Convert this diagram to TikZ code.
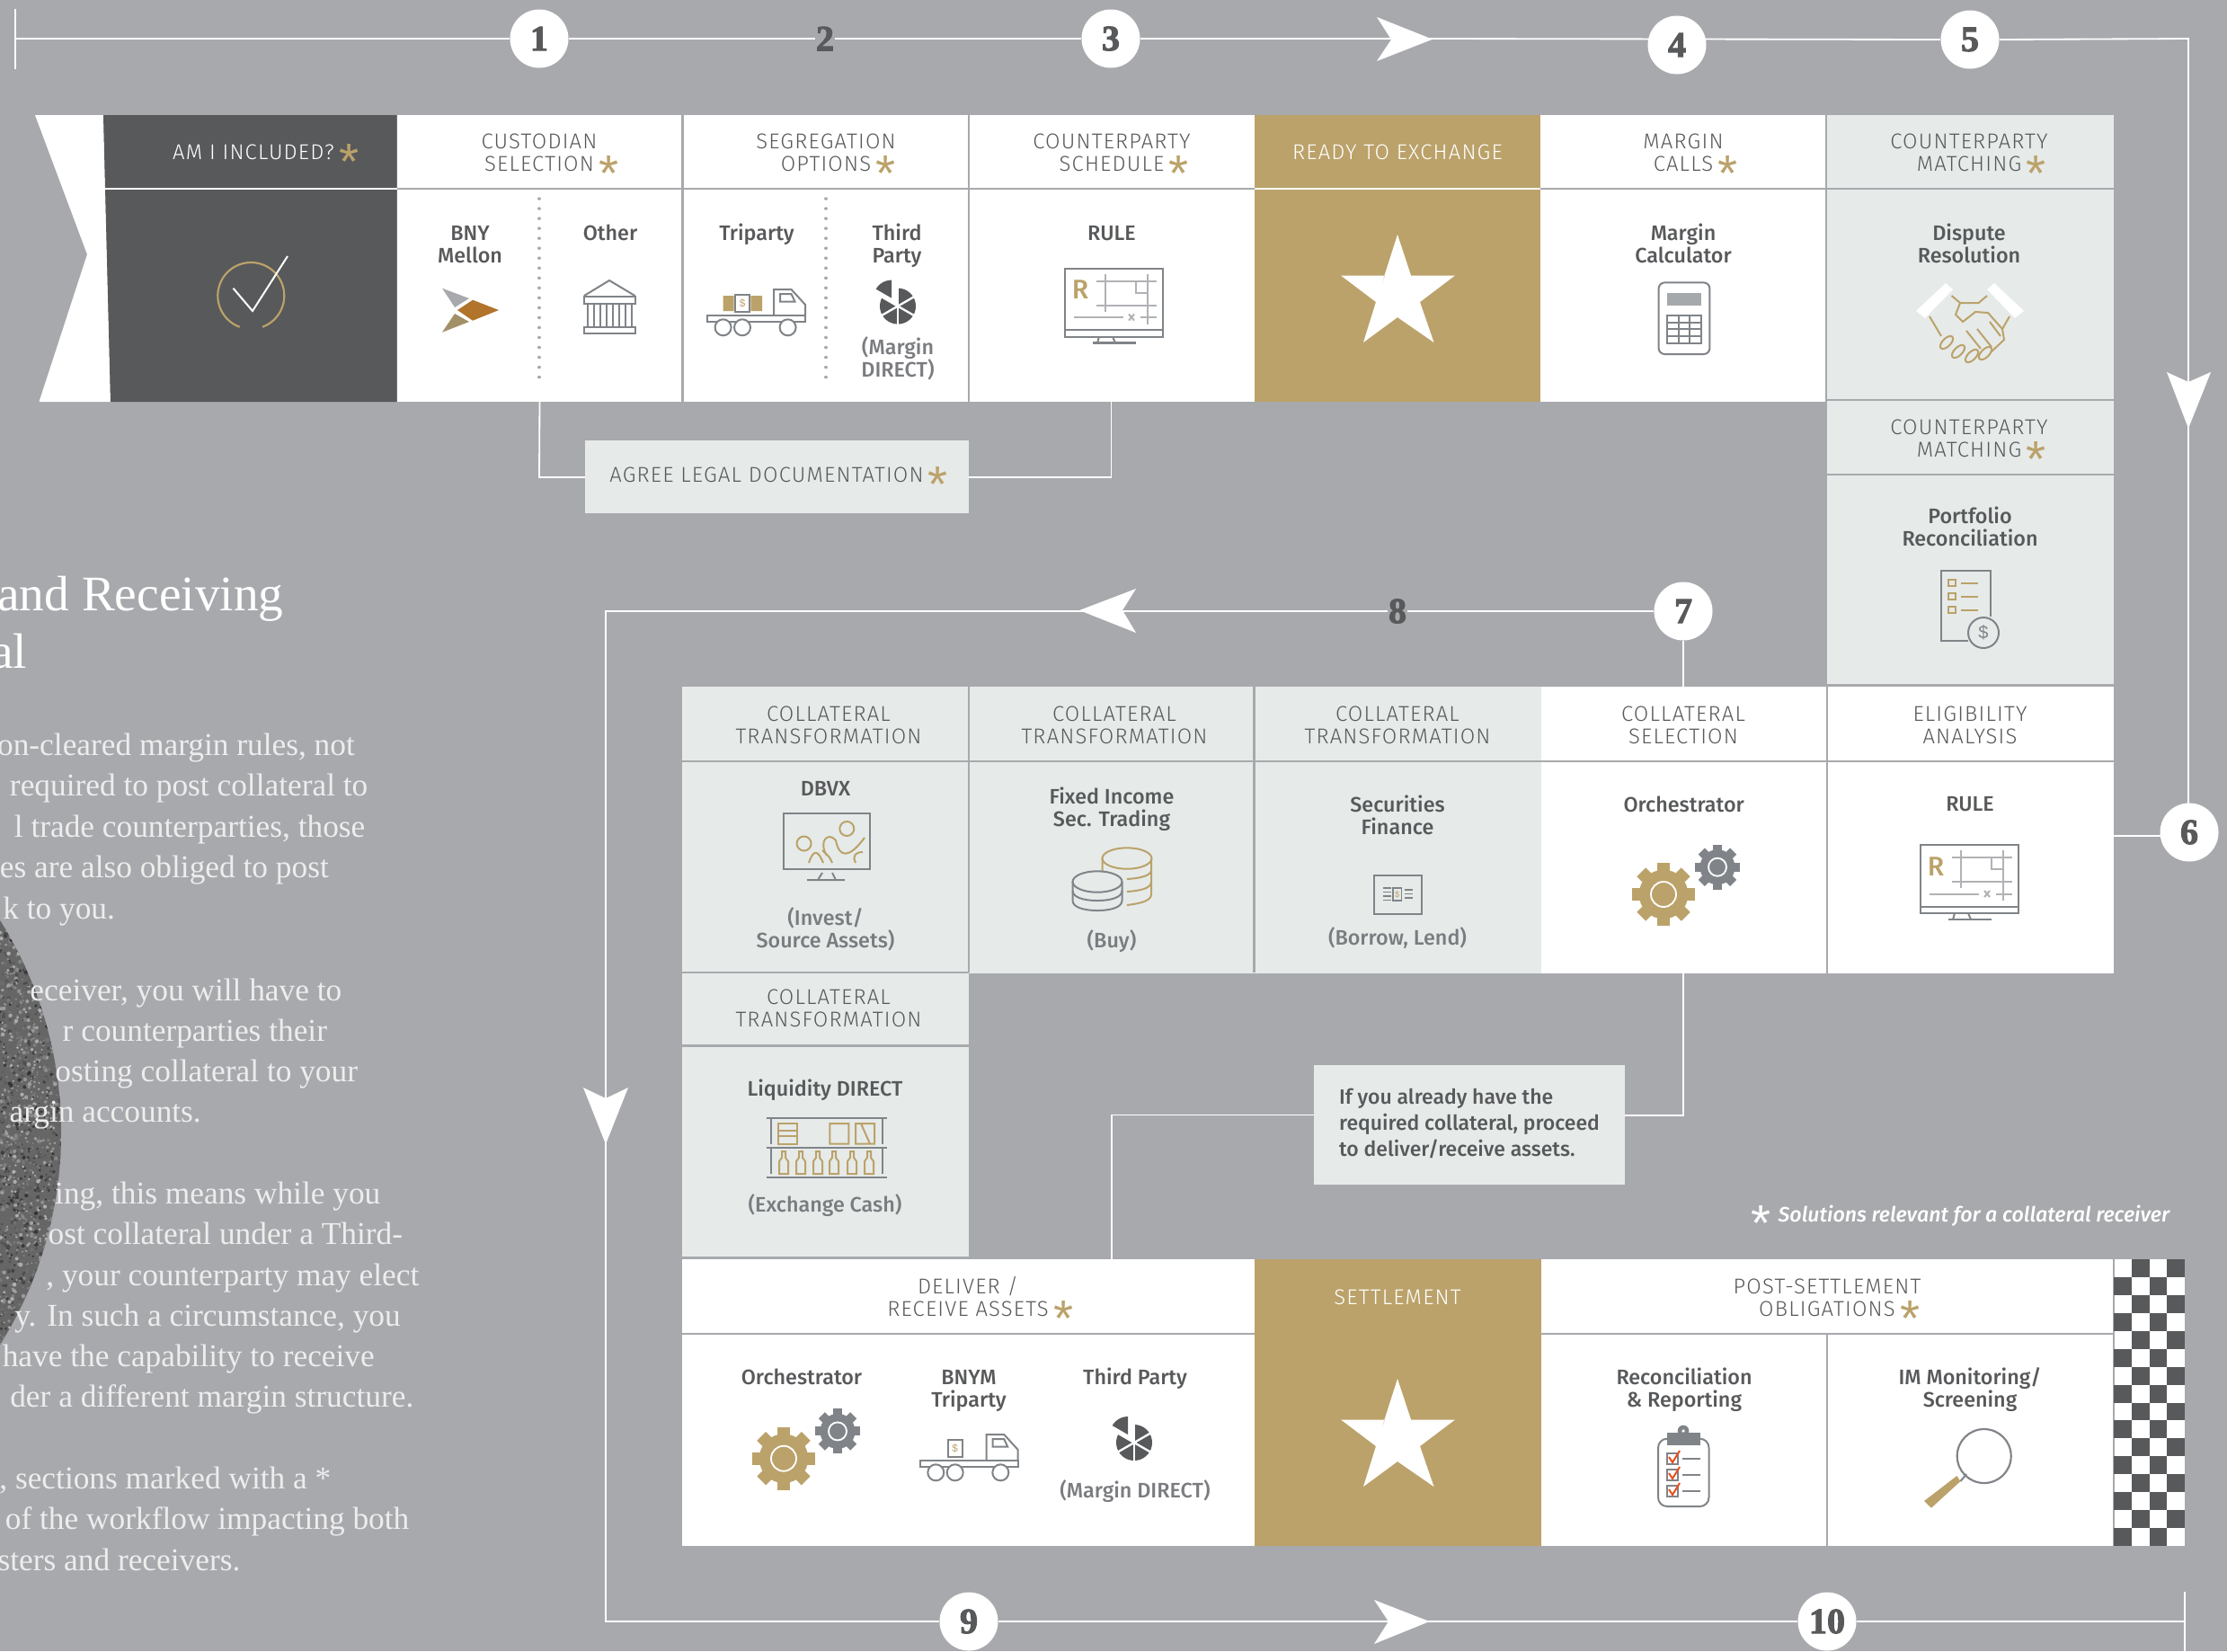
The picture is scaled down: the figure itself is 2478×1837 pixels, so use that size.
\documentclass[tikz,border=0pt]{standalone}
\usepackage{fontspec}
\setmainfont{Liberation Sans}
\newfontfamily\hdrf[LetterSpace=5]{Fira Sans Light}
\newfontfamily\labf{Fira Sans Medium}
\newfontfamily\fnf{Fira Sans Medium Italic}
\newfontfamily\numf[FakeBold=2.5]{Liberation Serif Bold}
\newfontfamily\srf{Liberation Serif}
\newfontfamily\asf{Liberation Sans}
\definecolor{bgc}{HTML}{A8A9AD}
\definecolor{dk}{HTML}{58595B}
\definecolor{gold}{HTML}{BBA26A}
\definecolor{pale}{HTML}{E6EBE9}
\definecolor{icn}{HTML}{808488}
\definecolor{ltl}{HTML}{B0B2B5}
\definecolor{subc}{HTML}{7A7C80}
\definecolor{txtl}{HTML}{EDEDED}
\definecolor{org}{HTML}{E8501C}
\newcommand\gast{\rlap{\hspace{1.6pt}\smash{\textcolor{gold}{\raisebox{-6.6pt}{\asf\fontsize{17pt}{17pt}\selectfont *}}}}}
\tikzset{
  x=0.3pt,y=-0.3pt,
  hdr/.style={align=center,inner sep=0pt,text=dk,font=\hdrf\fontsize{7.15pt}{7.5pt}\selectfont},
  hdrw/.style={hdr,text=white},
  lab/.style={align=center,inner sep=0pt,text=dk,font=\labf\fontsize{7pt}{7.5pt}\selectfont},
  sublab/.style={lab,text=subc},
  bodytxt/.style={inner sep=0pt,anchor=base east,text=txtl,font=\srf\fontsize{10.6pt}{11pt}\selectfont},
  titletxt/.style={inner sep=0pt,anchor=base east,text=white,font=\srf\fontsize{16.6pt}{19pt}\selectfont},
  numc/.style={circle,fill=white,minimum size=19.5pt,inner sep=0pt,text=dk,font=\numf\fontsize{12pt}{12pt}\selectfont},
  numt/.style={inner sep=0pt,text=dk,font=\numf\fontsize{12pt}{12pt}\selectfont},
  cellb/.style={rectangle,inner sep=0pt,outer sep=0pt,draw=none},
  flow/.style={draw=white,line width=0.55pt},
  sep/.style={draw=bgc,line width=0.7pt},
  ic/.style={draw=icn,line width=0.6pt,fill=none},
  icl/.style={draw=ltl,line width=0.6pt},
  icg/.style={draw=gold,line width=0.6pt,fill=none},
}
\newcommand\cell[6]{%
  \pgfmathsetmacro\cellx{(#2+#4)/2}\pgfmathsetmacro\celly{(#3+#5)/2}%
  \pgfmathsetmacro\cellw{(#4-#2)*0.3}\pgfmathsetmacro\cellh{(#5-#3)*0.3}%
  \node[cellb,fill=#6,minimum width=\cellw pt,minimum height=\cellh pt] (#1) at (\cellx,\celly) {};}
\newcommand\bline[4]{\node[bodytxt] (#1) at (#2,#3) {#4};}
\newcommand\rulemon[3]{\begin{scope}[shift={(#1,#2)}]
  \draw[ic] (0,0) rectangle (109,76); \draw[ic] (0,68.5) -- (109,68.5);
  \draw[ic] (38,76) -- (36,83) (53,76) -- (56,83); \draw[ic,line width=0.7pt] (31,83) -- (79,83);
  \draw[icl] (35,14) -- (101.5,14) (35,41) -- (101.5,41) (44.5,6) -- (44.5,48) (91.5,6) -- (91.5,62);
  \draw[icl] (79,14.5) -- (79,27.3) -- (91.5,27.3);
  \draw[icl] (9.6,54.6) -- (65,54.6) (84,54.6) -- (101.5,54.6);
  \draw[icl] (71,51) -- (77,58) (77,51) -- (71,58);
  \node[inner sep=0pt,text=gold,font=\labf\fontsize{9pt}{9pt}\selectfont] (#3) at (17,24) {R};
\end{scope}}
\newcommand\sect[5]{\fill[dk] plot[domain=#3:#4,samples=7] ({#1+#5*cos(\x)},{#2+#5*sin(\x)}) -- (#1,#2) -- cycle;}
\newcommand\pieicon[2]{%
  \foreach \a in {-90,-30,30,90,150}{\pgfmathsetmacro\ab{\a+60}\sect{#1}{#2}{\a}{\ab}{20}}
  \pgfmathsetmacro\wx{#1-7}\pgfmathsetmacro\wy{#2-9}\sect{\wx}{\wy}{210}{270}{20}
  \foreach \a in {-30,30,90}{\draw[white,line width=0.7pt] ({#1+21*cos(\a)},{#2+21*sin(\a)}) -- ({#1-21*cos(\a)},{#2-21*sin(\a)});}
}
\newcommand\gear[4]{\begin{scope}[shift={(#1,#2)}]
  \fill[#4] (0,0) circle ({#3*0.78});
  \foreach \a in {0,45,...,315}{\fill[#4,rotate=\a] ({-#3*0.2},{-#3}) rectangle ({#3*0.2},{-#3*0.6});}
  \draw[white,line width=0.55pt] (0,0) circle ({#3*0.4});
\end{scope}}
\newcommand\gearpair[2]{\gear{#1}{#2}{35}{gold}\pgfmathsetmacro\gx{#1+60}\pgfmathsetmacro\gy{#2-30.3}\gear{\gx}{\gy}{25}{icn}}
\newcommand\wstar[1]{\fill[white,shift={(0,#1)}] (1555,261) -- (1570,306.5) -- (1619,306.5) -- (1580,336) -- (1595.5,381) -- (1555,353) -- (1517,381) -- (1531,336) -- (1541,306.5) -- (1492,306.5) -- (1531,336) -- cycle;}
\newcommand\truckb[3]{\begin{scope}[shift={(#1,#2)}]
  \draw[ic] (74,0) -- (74,-29) -- (93.5,-29) -- (109,-12) -- (109,0);
  \draw[ic] (81,-24) -- (93.5,-24) -- (97.5,-15.4) -- (81,-15.4) -- cycle;
  \draw[ic] (0,0) rectangle (109,7);
  \draw[ic,fill=white] (17.6,13.3) circle (9) (39,13.3) circle (9) (89.6,13.3) circle (9);
  \draw[ic] (31,-23) rectangle (47,-4.3);
  \node[inner sep=0pt,text=gold,font=\asf\fontsize{3.5pt}{4pt}\selectfont] (#3) at (39,-13.5) {\$};
\end{scope}}
\begin{document}
\begin{tikzpicture}
\useasboundingbox (0,0) rectangle (2478,1837);
\fill[bgc] (0,0) rectangle (2478,1837);
% textured disc
\begin{scope}
\clip (-375.5,1260) circle (443.5);
\fill[black!60] (-10,800) rectangle (80,1600);
\pgfmathsetseed{7}
\foreach \i in {1,...,1800}{
  \pgfmathsetmacro\px{rnd*72}\pgfmathsetmacro\py{1015+rnd*490}\pgfmathsetmacro\ps{0.8+rnd*1.6}\pgfmathsetmacro\pg{30+rnd*50}
  \fill[black!\pg] (\px,\py) circle (\ps);}
\end{scope}
% left text
\node[titletxt] (t1) at (316,679) {and Receiving};
\node[titletxt] (t2) at (31,743.6) {al};
\bline{b1}{395.5}{840.6}{on-cleared margin rules, not}
\bline{b2}{410}{885.6}{required to post collateral to}
\bline{b3}{407}{931}{l trade counterparties, those}
\bline{b4}{366.5}{976}{es are also obliged to post}
\bline{b5}{128.6}{1022}{k to you.}
\bline{b6}{381}{1113}{eceiver, you will have to}
\bline{b7}{364.7}{1158}{r counterparties their}
\bline{b8}{398.7}{1203.5}{osting collateral to your}
\bline{b9}{224.5}{1248.5}{argin accounts.}
\bline{b10}{424}{1339}{ing, this means while you}
\bline{b11}{448.7}{1384}{ost collateral under a Third-}
\bline{b12}{467}{1430}{, your counterparty may elect}
\bline{b13}{446.4}{1475.7}{y. In such a circumstance, you}
\bline{b14}{417.4}{1520.6}{have the capability to receive}
\bline{b15}{461}{1565.6}{der a different margin structure.}
\bline{b16}{369}{1656}{, sections marked with a *}
\bline{b17}{456}{1701}{of the workflow impacting both}
\bline{b18}{268}{1747}{sters and receivers.}
% top row
\fill[white] (39,128) -- (115,128) -- (123,447) -- (43.5,447) -- (97,283) -- cycle;
\fill[dk] (115,128) -- (441.5,128) -- (441.5,447) -- (123,447) -- cycle;
\draw[white,line width=0.7pt] (117,210.3) -- (441.5,210.3);
\cell{c2}{441.5}{128}{759.5}{447}{white}
\cell{c3}{759.5}{128}{1078}{447}{white}
\cell{c4}{1078}{128}{1396}{447}{white}
\cell{c5}{1396}{128}{1714}{447}{gold}
\cell{c6}{1714}{128}{2032}{447}{white}
\cell{c7}{2032}{128}{2352}{446}{pale}
\cell{c7b}{2032}{446}{2352}{763}{pale}
\draw[sep] (441.5,210.3) -- (1396,210.3) (1714,210.3) -- (2352,210.3);
\draw[white,line width=0.7pt] (1396,210.3) -- (1714,210.3);
\draw[sep] (759.5,128) -- (759.5,447) (1078,128) -- (1078,447) (2032,128) -- (2032,763);
\draw[sep] (2032,445) -- (2352,445) (2032,528) -- (2352,528) (2032,762) -- (2352,762);
% middle row
\cell{m1}{759}{764}{1078}{1082}{pale}
\cell{m2}{1078}{764}{1395.5}{1082.5}{pale}
\cell{m3}{1395.5}{764}{1714.5}{1082.5}{pale}
\cell{m4}{1714.5}{764}{2032}{1083}{white}
\cell{m5}{2032}{764}{2352}{1083}{white}
\cell{m6}{759}{1082}{1078}{1400}{pale}
\draw[sep] (759,847) -- (2352,847) (1078,764) -- (1078,1082) (1395.5,764) -- (1395.5,1082) (2033,764) -- (2033,1083);
\draw[sep] (759,1082) -- (1078,1082) (759,1163.5) -- (1078,1163.5) (759,1399.5) -- (1078,1399.5);
% bottom row
\cell{l1}{759}{1401}{1395.5}{1720}{white}
\cell{l2}{1395.5}{1401}{1714.5}{1720}{gold}
\cell{l3}{1714.5}{1401}{2352}{1720}{white}
\draw[sep] (759,1484) -- (1395.5,1484) (1714.5,1484) -- (2352,1484) (2033,1484) -- (2033,1720) (2352,1401) -- (2352,1720);
\fill[white] (2353,1401) rectangle (2431,1720);
\foreach \rr in {0,...,15}{\foreach \cc in {0,...,3}{
  \ifodd\numexpr\rr+\cc\relax
    \fill[dk] ({2352+19.75*\cc},{1401+19.94*\rr}) rectangle ({2352+19.75*(\cc+1)},{1401+19.94*(\rr+1)});
  \fi}}
% boxes
\cell{agree}{651}{490}{1078}{570.6}{pale}
\cell{note}{1462}{1185}{1808}{1318}{pale}
% headers
\node[hdrw] (h1) at (282,169) {AM I INCLUDED?\gast};
\node[hdr] (h2) at (600,169.5) {CUSTODIAN\\SELECTION\gast};
\node[hdr] (h3) at (919,169.5) {SEGREGATION\\OPTIONS\gast};
\node[hdr] (h4) at (1237,169.5) {COUNTERPARTY\\SCHEDULE\gast};
\node[hdrw] (h5) at (1555,169) {READY TO EXCHANGE};
\node[hdr] (h6) at (1873,169.5) {MARGIN\\CALLS\gast};
\node[hdr] (h7) at (2191,169.5) {COUNTERPARTY\\MATCHING\gast};
\node[hdr] (h8) at (2191,487.5) {COUNTERPARTY\\MATCHING\gast};
\node[hdr] (h9) at (853,528) {AGREE LEGAL DOCUMENTATION\gast};
\node[hdr] (m1h) at (922,807) {COLLATERAL\\TRANSFORMATION};
\node[hdr] (m2h) at (1240,807) {COLLATERAL\\TRANSFORMATION};
\node[hdr] (m3h) at (1555,807) {COLLATERAL\\TRANSFORMATION};
\node[hdr] (m4h) at (1873,807) {COLLATERAL\\SELECTION};
\node[hdr] (m5h) at (2192,807) {ELIGIBILITY\\ANALYSIS};
\node[hdr] (m6h) at (922,1121.5) {COLLATERAL\\TRANSFORMATION};
\node[hdr] (l1h) at (1077,1442.5) {DELIVER /\\RECEIVE ASSETS\gast};
\node[hdrw] (l2h) at (1555,1443) {SETTLEMENT};
\node[hdr] (l3h) at (2033,1444) {POST-SETTLEMENT\\OBLIGATIONS\gast};
% labels
\node[lab] (a1) at (523,272.5) {BNY\\Mellon};
\node[lab] (a2) at (679,259) {Other};
\node[lab] (a3) at (842,260.5) {Triparty};
\node[lab] (a4) at (998,273) {Third\\Party};
\node[sublab] (a4s) at (999,398.5) {(Margin\\DIRECT)};
\node[lab] (a5) at (1237,260) {RULE};
\node[lab] (a6) at (1873,270.5) {Margin\\Calculator};
\node[lab] (a7) at (2191,270.5) {Dispute\\Resolution};
\node[lab] (a8) at (2192,585.5) {Portfolio\\Reconciliation};
\node[lab] (d1) at (918.5,877) {DBVX};
\node[sublab] (d1s) at (918.5,1033.5) {(Invest/\\Source Assets)};
\node[lab] (d2) at (1237,900.5) {Fixed Income\\Sec. Trading};
\node[sublab] (d2s) at (1237,1046.6) {(Buy)};
\node[lab] (d3) at (1555,906.5) {Securities\\Finance};
\node[sublab] (d3s) at (1555,1043.6) {(Borrow, Lend)};
\node[lab] (d4) at (1873.7,895) {Orchestrator};
\node[lab] (d5) at (2192,895) {RULE};
\node[lab] (e1) at (918,1212.5) {Liquidity DIRECT};
\node[sublab] (e1s) at (918,1341.5) {(Exchange Cash)};
\node[lab,align=left,anchor=west,font=\labf\fontsize{6.9pt}{8.7pt}\selectfont] (notet) at (1489.5,1250.5) {If you already have the\\required collateral, proceed\\to deliver/receive assets.};
\node[lab] (f1) at (892,1532) {Orchestrator};
\node[lab] (f2) at (1078,1547) {BNYM\\Triparty};
\node[lab] (f3) at (1263,1534) {Third Party};
\node[sublab] (f3s) at (1263,1659) {(Margin DIRECT)};
\node[lab] (g1) at (1874,1546) {Reconciliation\\\& Reporting};
\node[lab] (g2) at (2192,1546) {IM Monitoring/\\Screening};
\node[inner sep=0pt,anchor=base west,text=white,font=\fnf\fontsize{6.95pt}{7.5pt}\selectfont] (fn) at (1978,1359) {Solutions relevant for a collateral receiver};
\node[inner sep=0pt,anchor=base,text=white,font=\asf\fontsize{17pt}{17pt}\selectfont] (fnstar) at (1959.6,1380) {*};
% dotted splits
\draw[bgc,line width=1.05pt,line cap=round,dash pattern=on 0.01pt off 3.3pt] (600,221) -- (600,429);
\draw[bgc,line width=1.05pt,line cap=round,dash pattern=on 0.01pt off 3.3pt] (919,221) -- (919,429);
% check
\draw[gold,line width=0.65pt] plot[domain=-70:250,samples=60] ({279.3+37*cos(\x)},{329-37*sin(\x)});
\draw[white,line width=0.6pt] (259.5,320.7) -- (281,346) -- (320,285);
% BNY logo
\fill[bgc] (492,320.7) -- (522,332) -- (506,342) -- cycle;
\fill[gold!50!orange!80!black] (526,333.7) -- (555,345) -- (526,356.7) -- (509,345) -- cycle;
\fill[gold!75!dk] (492,369.7) -- (522,358) -- (506,349) -- cycle;
% bank
\draw[ic] (650,329) -- (678,312) -- (706.5,329);
\draw[ic] (650,330) rectangle (707,337.5) (650,363.5) rectangle (707,370.5);
\foreach \xx in {654,661,668,675,682,689,696,703}{\draw[ic] (\xx,337.5) -- (\xx,363.5);}
% truck top
\truckb{787}{351}{trkd1}
\fill[gold] (804.6,329) rectangle (816.5,346) (835.4,329) rectangle (848,346);
\pieicon{999}{340.6}
\rulemon{1185}{298.5}{rr1}
\wstar{0}
% calculator
\draw[ic,rounded corners=2pt] (1845.6,314.4) rectangle (1902.4,394);
\fill[icn!70!white] (1855,326) rectangle (1893,340);
\draw[ic] (1855,351) rectangle (1893,381.6) (1867.7,351) -- (1867.7,381.6) (1880.3,351) -- (1880.3,381.6) (1855,358.6) -- (1893,358.6) (1855,366.3) -- (1893,366.3) (1855,374) -- (1893,374);
% handshake
\fill[white] (2165,315) -- (2173,322) -- (2142,354) -- (2132,346) -- cycle;
\fill[white] (2219,315) -- (2252,346) -- (2242,354) -- (2211,322) -- cycle;
\draw[icg] (2171.6,329) -- (2181,337) -- (2201.6,337) -- (2211,329);
\draw[icg] (2181,337) -- (2176,350) -- (2184,358) -- (2198,347) -- (2212,348) -- (2228,366) -- (2236,352);
\draw[icg] (2147,352) -- (2160,374);
\draw[icg,rotate around={45:(2166,381)}] (2166,381) ellipse (9 and 4.5);
\draw[icg,rotate around={45:(2179,391)}] (2179,391) ellipse (9 and 4.5);
\draw[icg,rotate around={45:(2194,396)}] (2194,396) ellipse (9 and 4.5);
\draw[icg,rotate around={45:(2209,393)}] (2209,393) ellipse (9 and 4.5);
\draw[icg] (2228,366) -- (2230,378) -- (2215,392);
\draw[icg] (2200,366) -- (2216,386) (2188,368) -- (2204,388) (2214,358) -- (2226,374);
% portfolio
\draw[ic] (2215,686) -- (2215,635) -- (2159.8,635) -- (2159.8,713) -- (2190,713);
\foreach \yy in {648.7,663.6,678.6}{\draw[icg] (2168,{\yy-3.5}) rectangle (2176.4,{\yy+3.5}) (2182,\yy) -- (2201,\yy);}
\node[circle,draw=icn,fill=pale,line width=0.6pt,minimum size=10.2pt,inner sep=0pt,text=icn,font=\asf\fontsize{6pt}{6pt}\selectfont] (dollar) at (2207,704) {\$};
% DBVX
\draw[ic] (871.5,905) rectangle (968.3,967);
\draw[ic] (915,971) -- (910,979) (926,971) -- (930,979) (898,979) -- (940,979);
\draw[icg] (894.6,938.5) ellipse (8 and 8) (942.3,922) ellipse (8 and 8);
\draw[icg] (900,960) .. controls (905,945) and (910,945) .. (916,960) (920,952) .. controls (910,935) and (922,925) .. (930,935) .. controls (934,955) and (945,955) .. (962,932) (952,960) .. controls (948,952) and (952,948) .. (960,948) (926,960) .. controls (922,950) and (918,950) .. (915,946);
% coins
\draw[icg] (1254,955) ellipse (27.5 and 11.7);
\draw[icg] (1281,955) -- (1281,995) .. controls (1281,1002) and (1270,1005) .. (1254,1007);
\draw[icg] (1226.5,955) -- (1226.5,970) (1281,968) .. controls (1281,974) and (1270,977) .. (1254,978) (1281,981) .. controls (1281,988) and (1270,991) .. (1254,992);
\draw[ic] (1221,981) ellipse (27.5 and 11.7);
\draw[ic] (1193.5,981) -- (1193.5,1002) .. controls (1193.5,1009) and (1205,1013) .. (1221,1013) .. controls (1237,1013) and (1248.5,1009) .. (1248.5,1002) -- (1248.5,981);
\draw[ic] (1193.5,991) .. controls (1193.5,998) and (1205,1002) .. (1221,1002) .. controls (1237,1002) and (1248.5,998) .. (1248.5,991);
% securities box
\draw[ic] (1529,973.7) rectangle (1582,1017);
\draw[ic,line width=0.45pt] (1550,988) rectangle (1559.6,1002);
\draw[ic,line width=0.4pt] (1538.6,988) -- (1548,988) (1538.6,992.5) -- (1548,992.5) (1538.6,997) -- (1548,997) (1538.6,1001.5) -- (1548,1001.5) (1562.5,990) -- (1572,990) (1562.5,994.5) -- (1572,994.5) (1562.5,999) -- (1572,999);
\node[inner sep=0pt,text=gold,font=\asf\fontsize{2.8pt}{3pt}\selectfont] (secd) at (1554.8,995) {\$};
% gears
\gearpair{1851}{995}
\rulemon{2137}{940}{rr2}
% shelf
\draw[ic,line width=0.7pt] (852.6,1244) -- (987.3,1244) (852.6,1276.7) -- (987.3,1276.7) (852.6,1310) -- (987.3,1310);
\draw[ic] (857.5,1244) -- (857.5,1272.6) (982.3,1244) -- (982.3,1272.6) (857.5,1277) -- (857.5,1306) (982.3,1277) -- (982.3,1306);
\draw[icg] (866,1250) rectangle (887,1272.6) (866,1258) -- (887,1258) (866,1264) -- (887,1264);
\draw[icg] (923.4,1250) rectangle (944.4,1272.6) (952,1250) rectangle (973,1272.6) (958,1250) -- (968,1272.6);
\foreach \xx in {872,891,910,928,948,967}{
  \draw[icg] ({\xx-5},1306) -- ({\xx-5},1292) -- ({\xx-2},1288) -- ({\xx-2},1281) -- ({\xx+2},1281) -- ({\xx+2},1288) -- ({\xx+5},1292) -- ({\xx+5},1306) -- cycle;}
% lower icons
\gearpair{872}{1622.7}
\truckb{1023.7}{1625}{trkd2}
\pieicon{1262}{1605}
\wstar{1273}
% clipboard
\draw[ic,rounded corners=3pt] (1845,1600.7) rectangle (1901.5,1676);
\fill[icn] (1855,1594) rectangle (1892,1608);
\node[circle,fill=icn,minimum size=3.8pt,inner sep=0pt] (clipb) at (1873,1592) {};
\fill[white] (1873,1592) circle (1.8);
\foreach \yy in {0,18,36}{
  \draw[ic] (1855,{1617+\yy}) rectangle (1867,{1628.7+\yy}) (1871.7,{1623+\yy}) -- (1891.6,{1623+\yy});
  \draw[org,line width=0.6pt] (1857,{1621+\yy}) -- (1861,{1627+\yy}) -- (1869,{1614+\yy});}
% magnifier
\draw[ic,line width=0.65pt] (2207.7,1620) circle (30);
\draw[ic] (2181.4,1648) -- (2188,1640);
\fill[gold] (2177.4,1642) -- (2181.4,1648) -- (2149,1677.7) -- (2141,1670) -- cycle;
% numbers
\node[numc] (n1) at (600,43) {1};
\node[numt] (n2) at (918,43) {2};
\node[numc] (n3) at (1236,43) {3};
\node[numc] (n5) at (2192,44) {5};
\node[numc] (n6) at (2436,926) {6};
\node[numc] (n7) at (1873,680) {7};
\node[numt] (n8) at (1555,680) {8};
\node[numc] (n9) at (1078,1804) {9};
\node[numc] (n10) at (2033,1804) {10};
\coordinate (s0) at (16.6,43);
\coordinate (s1) at (16.6,10);
\coordinate (s2) at (16.6,76.5);
\coordinate (k1) at (2435,43);
\coordinate (k2) at (674,680);
\coordinate (k3) at (674,1804);
\coordinate (e0) at (2431,1804);
\coordinate (e1a) at (2431,1771);
\coordinate (e2a) at (2431,1837);
\coordinate (c6a) at (2352,930);
\coordinate (c6b) at (2410,930);
\draw[flow] (s1) -- (s2) (s0) -- (n1) (n1) -- (n2) (n2) -- (n3);
\draw[flow] (n3) -- (1600,43) -- (n5.west);
\draw[flow] (n5.east) -- (k1) -- (2435,894);
\node[numc] (n4) at (1866,50) {4};
\draw[flow] (n7) -- (n8) (n8) -- (k2) -- (k3) -- (n9) (n9) -- (n10) (n10) -- (e0) (e1a) -- (e2a);
\draw[flow] (n7) -- (m4.north -| n7);
\draw[flow] (c6a) -- (c6b);
\draw[flow] (c2.south) -- (600,531) -- (651,531);
\draw[flow] (1078,531) -- (1236.5,531) -- (1236.5,447);
\draw[flow] (1873,1083) -- (1873,1241) -- (note.east |- 1873,1241);
\draw[flow] (note.west |- 1237,1240.5) -- (1237,1240.5) -- (1237,1401);
% arrowheads
\fill[white] (1594,43.7) -- (1532,19) -- (1548,44) -- (1532,68) -- cycle;
\fill[white] (2435,476.6) -- (2411,414) -- (2435,425) -- (2460,414) -- cycle;
\fill[white] (1201,679) -- (1264,655) -- (1249,679) -- (1264,704) -- cycle;
\fill[white] (674,1273) -- (649,1210) -- (674,1222) -- (699,1210) -- cycle;
\fill[white] (1590.6,1804) -- (1529,1780) -- (1545,1804) -- (1529,1829) -- cycle;
\end{tikzpicture}
\end{document}
